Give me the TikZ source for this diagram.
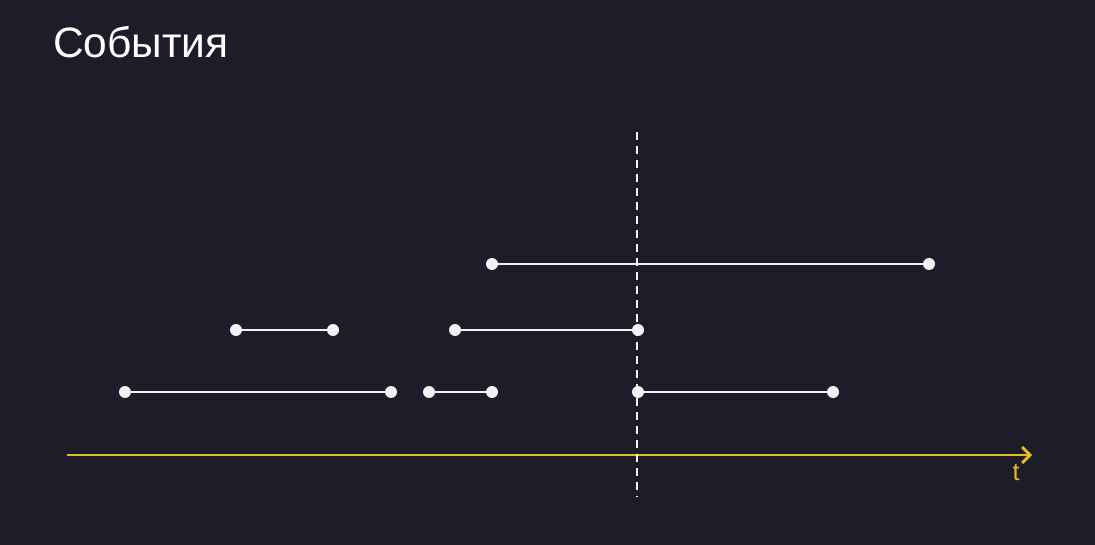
\documentclass[tikz,border=0pt]{standalone}
\usepackage{fontspec}
\setmainfont{Liberation Sans}
\usetikzlibrary{arrows.meta}
\definecolor{bg}{HTML}{1C1D29}
\definecolor{axis}{HTML}{E3BE22}
\definecolor{seg}{HTML}{F2F2F5}
\begin{document}
\begin{tikzpicture}[x=1pt,y=-1pt,
  seg/.style={draw=seg,line width=2.8pt},
  dot/.style={circle,fill=seg,inner sep=0pt,minimum size=12pt},
  axisline/.style={draw=axis,line width=2.8pt,-{Straight Barb[length=8pt,width=16pt,line width=2.8pt]}},
  nowline/.style={draw=seg,line width=2.2pt,dash pattern=on 8pt off 6pt}]
\fill[bg] (0,0) rectangle (1095,545);
\useasboundingbox (0,0) rectangle (1095,545);
\node[anchor=base west,inner sep=0pt,text=white,font=\fontsize{42.5}{42.5}\selectfont] (title) at (53,58) {События};
% axis
\coordinate (a0) at (67,455);
\coordinate (a1) at (1032,455);
\draw[axisline] (a0) -- (a1);
\node[anchor=base,inner sep=0pt,text=axis,font=\fontsize{25}{25}\selectfont] (tlab) at (1016,480) {t};
% now line
\coordinate (n0) at (637,132);
\coordinate (n1) at (637,497);
\draw[nowline] (n0) -- (n1);
% row 1
\node[dot] (r1a) at (492,264) {};
\node[dot] (r1b) at (929,264) {};
\draw[seg] (r1a) -- (r1b);
% row 2
\node[dot] (r2a) at (236,330) {};
\node[dot] (r2b) at (333,330) {};
\node[dot] (r2c) at (455,330) {};
\node[dot] (r2d) at (638,330) {};
\draw[seg] (r2a) -- (r2b);
\draw[seg] (r2c) -- (r2d);
% row 3
\node[dot] (r3a) at (125,392) {};
\node[dot] (r3b) at (391,392) {};
\node[dot] (r3c) at (429,392) {};
\node[dot] (r3d) at (492,392) {};
\node[dot] (r3e) at (638,392) {};
\node[dot] (r3f) at (833,392) {};
\draw[seg] (r3a) -- (r3b);
\draw[seg] (r3c) -- (r3d);
\draw[seg] (r3e) -- (r3f);
\end{tikzpicture}
\end{document}
